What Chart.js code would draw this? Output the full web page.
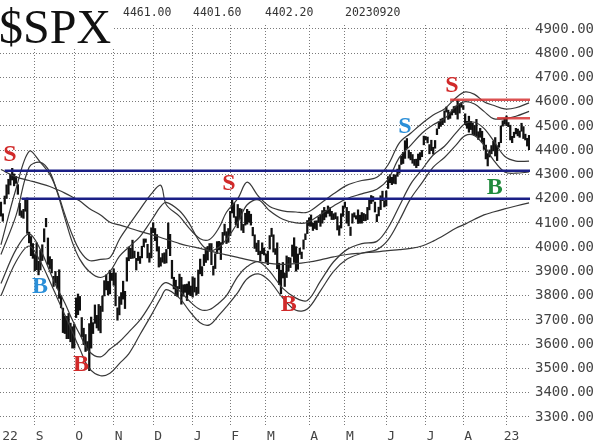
<!DOCTYPE html>
<html><head><meta charset="utf-8">
<script src="https://cdn.jsdelivr.net/npm/chart.js@4.4.0/dist/chart.umd.min.js"></script>
<style>html,body{margin:0;padding:0;background:#fff;}canvas{display:block;}</style>
</head><body>
<canvas id="c" width="600" height="446"></canvas>
<script>
// ---------------- data ----------------
const symbol = '$SPX';
const headerValues = ['4461.00', '4401.60', '4402.20', '20230920'];
const xTickIdx = [2.2, 18, 39, 60, 81, 102, 122, 141, 164, 183, 205, 226, 246, 269];
const xTickLabels = ['22', 'S', 'O', 'N', 'D', 'J', 'F', 'M', 'A', 'M', 'J', 'J', 'A', '23'];
const yTicks = [3300, 3400, 3500, 3600, 3700, 3800, 3900, 4000, 4100, 4200, 4300, 4400, 4500, 4600, 4700, 4800, 4900];

// daily bars, trading days from 2022-08-08 to 2023-09-20
const barHigh = [
 4186,4138,4211,4257,4280,4301,4325,4302,4292,4258,4181,4150,4156,4200,4203,4062,4044,4015,
 3970,4018,3942,3987,4010,4076,4119,4038,3961,3950,3880,3900,3880,3907,3800,3749,3716,3715,3727,3687,3672,
 3683,3791,3807,3797,3710,3666,3640,3611,3685,3712,3689,3762,3719,3764,3757,3799,3862,3886,3859,3905,3893,
 3911,3894,3750,3796,3813,3860,3818,3957,4001,3996,4029,3984,3954,3980,3962,4004,4034,4034,4012,3976,4080,
 4101,4077,4052,4002,3957,3974,3977,3991,4100,4053,3946,3876,3864,3838,3889,3876,3845,3846,3848,3858,3840,
 3878,3873,3835,3906,3951,3920,3970,3998,4003,4015,4015,3922,3973,4023,4024,4019,4061,4095,4064,4077,
 4148,4195,4182,4126,4176,4160,4157,4094,4140,4156,4148,4136,4082,4051,4017,4028,3984,4018,3996,
 3972,3984,4048,4078,4051,3994,4018,3934,3905,3937,3894,3964,3958,3956,4009,4039,4002,3972,3996,3980,4030,4055,4110,
 4121,4133,4099,4108,4109,4125,4134,4151,4164,4152,4170,4163,4148,4138,4142,4126,4089,4138,4170,
 4186,4164,4148,4083,4138,4142,4130,4154,4132,4143,4139,4135,4164,4198,4213,4209,4186,4135,4165,4212,4231,4192,
 4232,4291,4299,4288,4299,4298,4322,4339,4375,4391,4439,4448,4400,4391,4382,4362,4363,4384,4390,4399,4458,
 4456,4454,4423,4441,4412,4440,4488,4517,4528,4532,4562,4578,4565,4555,4567,4580,4582,4607,4590,4595,
 4584,4550,4519,4540,4519,4511,4502,4527,4476,4490,4478,4449,4421,4386,4401,4419,4437,4452,4418,4432,4500,4521,4532,
 4541,4514,4503,4457,4474,4490,4487,4479,4511,4497,4466,4449,4461
];
const barLow = [
 4128,4107,4178,4201,4219,4256,4277,4253,4263,4218,4131,4123,4119,4148,4057,4018,3965,3954,
 3903,3907,3886,3906,3945,4022,4084,3929,3912,3894,3838,3852,3831,3789,3750,3648,3644,3623,3623,3610,3584,
 3584,3710,3722,3740,3631,3598,3570,3575,3491,3584,3644,3686,3667,3657,3647,3735,3799,3824,3803,3808,3863,
 3843,3758,3699,3721,3764,3786,3747,3860,3944,3953,3954,3956,3906,3945,3933,3956,4002,4020,3956,3938,3956,
 4060,4027,3984,3918,3922,3938,3933,3935,3994,3965,3871,3828,3800,3796,3828,3765,3798,3814,3780,3805,3800,
 3794,3815,3802,3809,3890,3882,3924,3937,3947,3984,3928,3885,3912,3974,3989,3949,4013,4049,4015,4020,
 4048,4141,4123,4093,4080,4117,4070,4060,4091,4095,4103,4091,4047,3995,3982,3969,3943,3973,3968,
 3939,3928,3992,4044,3980,3970,3911,3846,3808,3873,3838,3875,3901,3916,3962,3937,3901,3909,3970,3953,3992,4031,4056,
 4089,4086,4069,4077,4072,4102,4086,4099,4113,4124,4139,4128,4114,4114,4117,4071,4049,4079,4127,
 4164,4099,4088,4048,4099,4124,4116,4098,4099,4099,4109,4109,4114,4154,4180,4189,4145,4105,4129,4155,4192,4166,
 4170,4242,4266,4258,4263,4261,4292,4305,4341,4345,4366,4407,4367,4360,4346,4337,4328,4336,4360,4373,4422,
 4442,4430,4385,4398,4384,4408,4464,4489,4498,4505,4514,4557,4527,4531,4545,4555,4547,4528,4553,4577,
 4568,4505,4490,4474,4485,4464,4461,4457,4444,4453,4432,4403,4364,4335,4372,4385,4397,4376,4357,4412,4431,4499,4507,
 4501,4497,4442,4431,4452,4467,4459,4453,4478,4448,4442,4417,4402
];

// band lines at these bar indices
const bandIdx = [0,8,15,21,26,30,34,38,42,47,53,58,63,68,74,80,85,88,95,100,106,111,116,120,126,131,137,143,150,157,163,170,177,184,192,200,206,212,218,224,230,236,242,247,252,257,262,268,274,281];
const upperOuter = [4010,4240,4395,4350,4300,4230,4135,4050,3985,3945,3950,3957,4032,4090,4156,4220,4255,4175,4127,4080,4035,4032,4080,4144,4200,4268,4210,4168,4150,4145,4144,4180,4220,4255,4275,4288,4340,4430,4470,4510,4545,4570,4615,4640,4630,4600,4585,4570,4575,4595];
const upperInner = [3970,4130,4330,4350,4310,4225,4120,4020,3950,3900,3875,3900,3962,4000,4044,4110,4168,4185,4150,4100,4019,3985,4000,4032,4102,4175,4195,4150,4115,4100,4102,4135,4170,4200,4220,4239,4280,4370,4420,4470,4505,4530,4580,4600,4590,4560,4530,4530,4540,4560];
const lowerInner = [3850,3990,4055,3990,3900,3830,3770,3700,3640,3570,3548,3580,3610,3650,3700,3771,3838,3854,3820,3780,3743,3743,3770,3800,3879,3920,3940,3900,3830,3790,3780,3860,3940,3990,4015,4024,4080,4170,4260,4320,4380,4416,4470,4510,4515,4490,4440,4375,4355,4355];
const lowerOuter = [3800,3940,4005,3940,3860,3790,3720,3650,3580,3500,3470,3480,3520,3560,3640,3720,3790,3825,3790,3740,3689,3680,3720,3755,3813,3870,3890,3860,3790,3740,3745,3820,3900,3950,3975,3990,4030,4110,4200,4265,4330,4370,4420,4460,4460,4420,4360,4310,4305,4310];
const ma200 = [4320,4290,4275,4262,4250,4237,4223,4207,4190,4160,4133,4103,4092,4080,4065,4052,4040,4032,4015,4005,3995,3985,3975,3968,3958,3949,3940,3933,3929,3932,3938,3948,3960,3970,3976,3981,3986,3990,3995,4005,4025,4050,4078,4095,4115,4133,4145,4158,4170,4183];

// horizontal levels
const blueLevels = [4315, 4200];
const blueStartIdx = [2, 11];
const redLevels = [4608, 4532];
const redStartIdx = [239, 264];

// signal letters
const signalText = ['S', 'B', 'B', 'S', 'B', 'S', 'S', 'B'];
const signalIdx = [4.8, 20.8, 42.6, 121.3, 153.2, 215, 240, 262.8];
const signalValue = [4379, 3838, 3515, 4263, 3763, 4495, 4664, 4243];
const signalKind = ['red', 'blue', 'red', 'red', 'red', 'blue', 'red', 'green'];

// ---------------- chart ----------------
const lastIdx = barHigh.length - 1;
const signalColors = {red: '#d12a2a', blue: '#2b8fd8', green: '#1f8a3c'};
const bandStyle = {type: 'line', borderColor: '#383838', borderWidth: 1.2, pointRadius: 0, tension: 0.35, fill: false, order: 4};
const mk = arr => bandIdx.map((v, i) => ({x: v, y: arr[i]}));

const datasets = [
  {type: 'bar', data: barHigh.map((h, i) => ({x: i, y: [barLow[i], h]})), backgroundColor: '#111', barThickness: 1.6, grouped: false, order: 6},
  Object.assign({data: mk(upperOuter)}, bandStyle),
  Object.assign({data: mk(upperInner)}, bandStyle),
  Object.assign({data: mk(lowerInner)}, bandStyle),
  Object.assign({data: mk(lowerOuter)}, bandStyle),
  Object.assign({data: mk(ma200)}, bandStyle),
];
blueLevels.forEach((v, i) => datasets.push({type: 'line', data: [{x: blueStartIdx[i], y: v}, {x: lastIdx + 0.5, y: v}], borderColor: '#1b1f86', borderWidth: 2.5, pointRadius: 0, order: 1}));
redLevels.forEach((v, i) => datasets.push({type: 'line', data: [{x: redStartIdx[i], y: v}, {x: lastIdx + 1.5, y: v}], borderColor: 'rgba(214,52,52,0.85)', borderWidth: 2.5, pointRadius: 0, order: 1}));

const overlay = {
  id: 'overlay',
  afterDatasetsDraw(chart) {
    const {ctx, scales: {x, y}} = chart;
    ctx.save();
    ctx.font = 'bold 24px "Liberation Serif", "DejaVu Serif", serif';
    ctx.textAlign = 'center';
    ctx.textBaseline = 'middle';
    signalText.forEach((t, i) => {
      ctx.fillStyle = signalColors[signalKind[i]];
      ctx.fillText(t, x.getPixelForValue(signalIdx[i]), y.getPixelForValue(signalValue[i]));
    });
    ctx.restore();
  },
  afterDraw(chart) {
    const ctx = chart.ctx;
    ctx.save();
    ctx.fillStyle = '#fff';
    ctx.fillRect(0, 0, 114, 49);
    ctx.fillStyle = '#111';
    ctx.font = '48px "Liberation Serif", "DejaVu Serif", serif';
    ctx.textBaseline = 'alphabetic';
    ctx.textAlign = 'left';
    ctx.fillText(symbol, -1, 43);
    ctx.font = '11.5px "DejaVu Sans Mono", monospace';
    ctx.fillStyle = '#333';
    const xs = [123, 193, 265, 345];
    headerValues.forEach((t, i) => ctx.fillText(t, xs[i], 16));
    ctx.restore();
  }
};

new Chart(document.getElementById('c'), {
  type: 'line',
  data: {datasets},
  options: {
    responsive: false,
    animation: false,
    events: [],
    layout: {padding: {top: 25, left: 0, right: 0, bottom: 0}},
    plugins: {legend: {display: false}, tooltip: {enabled: false}},
    scales: {
      x: {
        type: 'linear', min: -0.5, max: lastIdx + 0.5, offset: false,
        afterBuildTicks: s => { s.ticks = xTickIdx.map(v => ({value: v})); },
        afterFit: s => { s.height = 21; s.paddingLeft = 0; s.paddingRight = 0; },
        grid: {offset: false, drawTicks: false, color: c => (c.index === 0 ? 'rgba(0,0,0,0)' : '#7a7a7a'), lineWidth: 1},
        border: {display: false, dash: [1, 2]},
        ticks: {autoSkip: false, maxRotation: 0, minRotation: 0, labelOffset: 5, padding: 4,
          font: {family: 'DejaVu Sans Mono', size: 13}, color: '#444',
          callback: (v, i) => xTickLabels[i]}
      },
      y: {
        type: 'linear', position: 'right', min: 3267, max: 4916,
        afterBuildTicks: s => { s.ticks = yTicks.map(v => ({value: v})); },
        afterFit: s => { s.width = 70; },
        grid: {drawTicks: false, color: '#7a7a7a', lineWidth: 1},
        border: {display: false, dash: [1, 2]},
        ticks: {padding: 5, font: {family: 'DejaVu Sans Mono', size: 14}, color: '#444',
          callback: v => Number(v).toFixed(2)}
      }
    }
  },
  plugins: [overlay]
});
</script>
</body></html>
